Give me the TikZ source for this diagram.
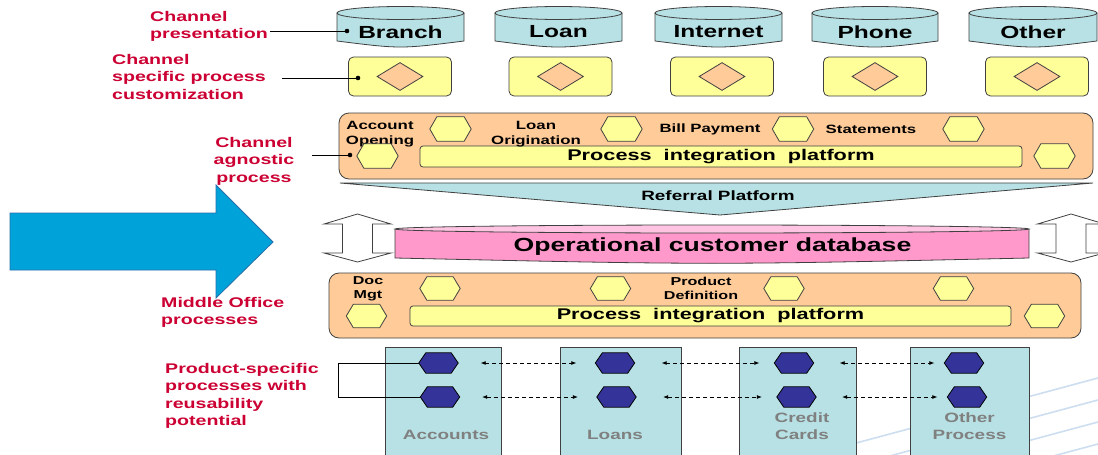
\documentclass[tikz,border=0pt]{standalone}
\usepackage{fontspec}
\setmainfont{Liberation Sans}[FakeStretch=1.4]
\usetikzlibrary{arrows.meta,shapes.geometric}
\definecolor{cyl}{RGB}{183,225,228}
\definecolor{yel}{RGB}{255,255,153}
\definecolor{org}{RGB}{255,204,153}
\definecolor{pinkA}{RGB}{255,153,204}
\definecolor{pinkB}{RGB}{255,196,226}
\definecolor{arrowblue}{RGB}{0,163,217}
\definecolor{arrowedge}{RGB}{40,110,170}
\definecolor{hexblue}{RGB}{51,51,153}
\definecolor{lblred}{RGB}{204,0,51}
\definecolor{gtext}{RGB}{128,128,128}
\definecolor{edge}{RGB}{64,64,64}
\definecolor{faint}{RGB}{205,222,240}
\newcommand{\fs}[2]{\fontsize{#1}{#2}\selectfont\bfseries}
\newcommand{\hexat}[6]{%
  \node[inner sep=0pt,minimum width={2*#4pt},minimum height={2*#5pt}] (#1) at (#2,#3) {};
  \draw[#6] (#1.west) -- ([xshift=7pt]#1.north west) -- ([xshift=-7pt]#1.north east) -- (#1.east) -- ([xshift=-7pt]#1.south east) -- ([xshift=7pt]#1.south west) -- cycle;
}
\newcommand{\chancyl}[4]{%
  \filldraw[fill=cyl,draw=edge,line width=0.8pt] (#2,13) -- (#2,41) .. controls ({(#2+#3)/2},49) .. (#3,41) -- (#3,13);
  \filldraw[fill=cyl,draw=edge,line width=0.8pt] ({(#2+#3)/2},13) ellipse [x radius={(#3-#2)/2}, y radius=6.5];
  \node[font={\fs{17.5}{20}},inner sep=0pt] (#1) at ({(#2+#3)/2},32) {#4};
}
\newcommand{\hollowarrow}[1]{%
  \draw[fill=white,draw=edge,line width=0.8pt] (#1,214) -- (#1+33.5,224) -- (#1+15,224) -- (#1+15,253) -- (#1+33.5,253) -- (#1,262) -- (#1-33.5,253) -- (#1-15,253) -- (#1-15,224) -- (#1-33.5,224) -- cycle;
}
\tikzset{
  lbl/.style={text=lblred,font={\fs{14}{17.5}},inner sep=0pt},
  ybox/.style={rounded corners=5pt,fill=yel,draw=edge,line width=0.8pt,minimum width=103pt,minimum height=39pt,inner sep=0pt},
  diam/.style={diamond,fill=org,draw=edge,line width=0.8pt,minimum width=46pt,minimum height=28pt,inner sep=0pt},
  obox/.style={rounded corners=10pt,fill=org,draw=edge,line width=0.8pt,inner sep=0pt},
  pbar/.style={rounded corners=3pt,fill=yel,draw=edge,line width=0.8pt,inner sep=0pt,font={\fs{15.5}{18}}},
  small/.style={font={\fs{12}{15}},inner sep=0pt,align=center},
  yhex/.style={fill=yel,draw=edge,line width=0.8pt},
  bhex/.style={fill=hexblue,draw=black,line width=0.8pt},
  prodbox/.style={fill=cyl,draw=edge,line width=1pt,inner sep=0pt,minimum height=110pt},
  glbl/.style={text=gtext,font={\fs{13.5}{17}},inner sep=0pt,align=center},
  dashar/.style={dashed,dash pattern=on 4pt off 3pt,line width=0.7pt,{Latex[length=5pt,width=4pt]}-{Latex[length=5pt,width=4pt]}},
  leader/.style={draw=black,line width=0.8pt},
  dot/.style={circle,fill=black,inner sep=0pt,minimum size=4.6pt}
}
\begin{document}
\begin{tikzpicture}[x=1pt,y=-1pt]
\useasboundingbox (0,0) rectangle (1098,455);
\fill[white] (0,0) rectangle (1098,455);
% faint background lines
\foreach \ye in {378,400,422,444}{
  \draw[faint,line width=1.6pt] (700,\ye+107) -- (1098,\ye);
}
% channel cylinders
\chancyl{branch}{337}{464}{Branch}
\chancyl{loan}{495}{622}{Loan}
\chancyl{internet}{655}{782}{Internet}
\chancyl{phone}{812}{938}{Phone}
\chancyl{other}{969}{1097}{Other}
% channel specific boxes
\node[ybox] (yb1) at (400,76.5) {};
\node[ybox] (yb2) at (560.5,76.5) {};
\node[ybox] (yb3) at (722,76.5) {};
\node[ybox] (yb4) at (875,76.5) {};
\node[ybox] (yb5) at (1037,76.5) {};
\node[diam] (dm1) at (400,76.5) {};
\node[diam] (dm2) at (560.5,76.5) {};
\node[diam] (dm3) at (722,76.5) {};
\node[diam] (dm4) at (875,76.5) {};
\node[diam] (dm5) at (1037,76.5) {};
% channel agnostic box
\node[obox,minimum width=754pt,minimum height=66pt] (agn) at (716,146) {};
\node[pbar,minimum width=602pt,minimum height=21pt] (pip1) at (721,156.5) {Process\ \ integration\ \ platform};
\node[small] (accop) at (380,134) {Account\\Opening};
\node[small] (loanor) at (536,134) {Loan\\Origination};
\node[small,anchor=center] (billpay) at (710,129.5) {Bill Payment};
\node[small,anchor=center] (stmts) at (871,129.5) {Statements};
\hexat{h1}{450.5}{129}{20.5}{12}{yhex}
\hexat{h2}{621.5}{129}{20.5}{12}{yhex}
\hexat{h3}{793}{129}{20.5}{12}{yhex}
\hexat{h4}{963.5}{129}{20.5}{12}{yhex}
\hexat{h5}{377.5}{156}{20.5}{12}{yhex}
\hexat{h6}{1054.5}{156}{20.5}{12}{yhex}
% referral platform
\filldraw[fill=cyl,draw=edge,line width=0.8pt] (340,183) -- (1093,183) -- (720,215) -- cycle;
\node[font={\fs{13.5}{16}},inner sep=0pt] (refp) at (718,195.5) {Referral Platform};
% big blue arrow
\filldraw[fill=arrowblue,draw=arrowedge,line width=0.8pt] (10,213) -- (216,213) -- (216,185) -- (273,242) -- (216,298) -- (216,270) -- (10,270) -- cycle;
% hollow arrows
\hollowarrow{357.5}
\hollowarrow{1071}
% operational customer database
\filldraw[fill=pinkA,draw=edge,line width=0.8pt] (395,229) -- (395,258) .. controls (712,265) .. (1029,258) -- (1029,229);
\filldraw[fill=pinkB,draw=edge,line width=0.8pt] (712,229) ellipse [x radius=317, y radius=4];
\node[font={\fs{19}{22}},inner sep=0pt] (ocdb) at (712.5,247) {Operational customer database};
% middle office box
\node[obox,minimum width=752pt,minimum height=65pt] (mid) at (705,305.5) {};
\node[pbar,minimum width=601pt,minimum height=20pt] (pip2) at (710.5,316) {Process\ \ integration\ \ platform};
\node[small,font={\fs{11.5}{14}}] (docmgt) at (368,289) {Doc\\Mgt};
\node[small,font={\fs{11.5}{14}}] (proddef) at (701,288) {Product\\Definition};
\hexat{m1}{440}{288.5}{20}{11.5}{yhex}
\hexat{m2}{610.5}{288.5}{20}{11.5}{yhex}
\hexat{m3}{784}{288.5}{20}{11.5}{yhex}
\hexat{m4}{953.5}{288.5}{20}{11.5}{yhex}
\hexat{m5}{366.5}{316}{20}{11.5}{yhex}
\hexat{m6}{1044.5}{316}{20}{11.5}{yhex}
% product boxes
\node[prodbox,minimum width=116pt] (accts) at (443,402) {};
\node[prodbox,minimum width=121pt] (loans) at (620.5,402) {};
\node[prodbox,minimum width=117pt] (ccards) at (797.5,402) {};
\node[prodbox,minimum width=119pt] (othp) at (969.5,402) {};
\node[glbl] (accl) at (446,434.5) {Accounts};
\node[glbl] (loal) at (615,434.5) {Loans};
\node[glbl] (ccl) at (802,426) {Credit\\Cards};
\node[glbl] (otl) at (969.5,426) {Other\\Process};
\hexat{a1}{438.5}{363}{19.5}{10}{bhex}
\hexat{a2}{440}{397}{19.5}{10}{bhex}
\hexat{l1}{615}{363}{19.5}{10}{bhex}
\hexat{l2}{616.5}{397}{19.5}{10}{bhex}
\hexat{c1}{794}{363}{19.5}{10}{bhex}
\hexat{c2}{796.5}{397}{19.5}{10}{bhex}
\hexat{o1}{964}{363}{19.5}{10}{bhex}
\hexat{o2}{967}{397}{19.5}{10}{bhex}
\draw[dashar,shorten <=22.5pt,shorten >=19pt] (a1) -- (l1);
\draw[dashar,shorten <=22.5pt,shorten >=19pt] (a2) -- (l2);
\draw[dashar,shorten <=27pt,shorten >=15pt] (l1) -- (c1);
\draw[dashar,shorten <=27pt,shorten >=15pt] (l2) -- (c2);
\draw[dashar,shorten <=26pt,shorten >=10pt] (c1) -- (o1);
\draw[dashar,shorten <=26pt,shorten >=10pt] (c2) -- (o2);
% red labels
\node[lbl,anchor=north west,align=left] (lpres) at (150,11) {Channel\\presentation};
\node[lbl,anchor=north west,align=left] (lspec) at (112,54) {Channel\\specific process\\customization};
\node[lbl,anchor=north,align=center] (lagn) at (254,137) {Channel\\agnostic\\process};
\node[lbl,anchor=north west,align=left] (lmid) at (161,297) {Middle Office\\processes};
\node[lbl,anchor=north west,align=left] (lprod) at (165,363) {Product-specific\\processes with\\reusability\\potential};
% leader lines
\coordinate (s1) at (270,31);
\node[dot] (d1) at (347,31) {};
\coordinate (s2) at (282,78);
\node[dot] (d2) at (358,78) {};
\coordinate (s3) at (312,155);
\node[dot] (d3) at (350,155) {};
\draw[leader] (s1) -- (d1.center);
\draw[leader] (s2) -- (d2.center);
\draw[leader] (s3) -- (d3.center);
\draw[leader] (a1.west) -- ++(-80.5,0) |- (a2.west);
\end{tikzpicture}
\end{document}
